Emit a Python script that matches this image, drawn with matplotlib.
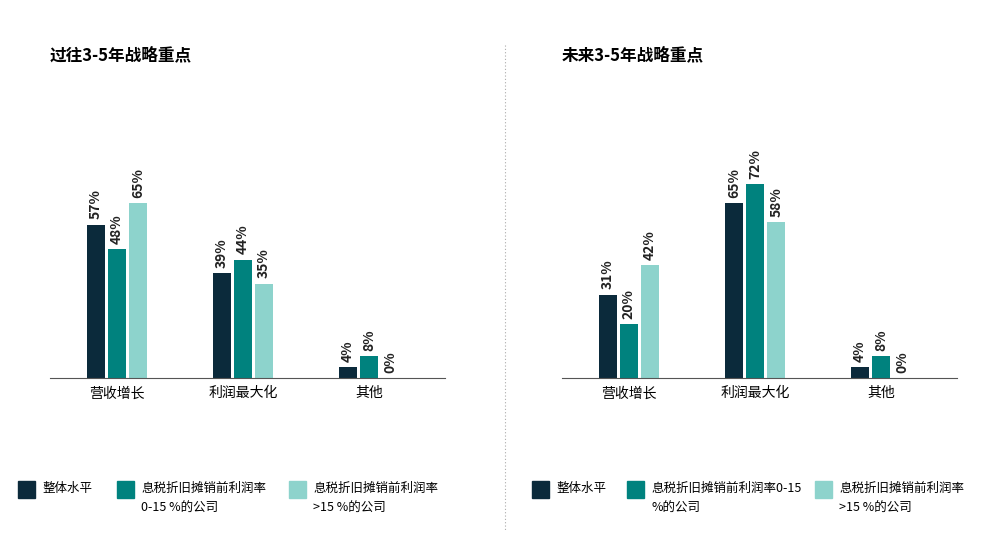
import matplotlib.pyplot as plt
from matplotlib.patches import Rectangle
from matplotlib.lines import Line2D

plt.rcParams['font.family'] = ['Noto Sans CJK SC', 'DejaVu Sans']

categories = ['营收增长', '利润最大化', '其他']
past_overall = [57, 39, 4]
past_mid = [48, 44, 8]
past_high = [65, 35, 0]
future_overall = [31, 65, 4]
future_mid = [20, 72, 8]
future_high = [42, 58, 0]
titles = ['过往3-5年战略重点', '未来3-5年战略重点']
colors = ['#0b2a3b', '#00827e', '#8dd3cc']
legend_left = ['整体水平', '息税折旧摊销前利润率\n0-15 %的公司', '息税折旧摊销前利润率\n>15 %的公司']
legend_right = ['整体水平', '息税折旧摊销前利润率0-15\n%的公司', '息税折旧摊销前利润率\n>15 %的公司']

W, H = 998, 549
fig = plt.figure(figsize=(W / 100, H / 100), dpi=100)

panels = [
    (50, [past_overall, past_mid, past_high], titles[0], legend_left, [18, 117, 289]),
    (562, [future_overall, future_mid, future_high], titles[1], legend_right, [532, 627, 815]),
]
for left, series, title, leg, legx in panels:
    ax = fig.add_axes([left / W, 1 - 378 / H, 395 / W, 269 / H])
    ax.set_xlim(-0.53, 2.6)
    ax.set_ylim(0, 100)
    offs = [-0.167, 0, 0.167]
    for vals, c, o in zip(series, colors, offs):
        xs = [i + o for i in range(len(categories))]
        ax.bar(xs, vals, width=0.145, color=c)
        for x, v in zip(xs, vals):
            ax.text(x, v + 2, f'{v}%', rotation=90, ha='center', va='bottom',
                    fontsize=10, fontweight='bold', color='#222222')
    for s in ['top', 'right', 'left']:
        ax.spines[s].set_visible(False)
    ax.spines['bottom'].set_color('#555555')
    ax.set_yticks([])
    ax.set_xticks(range(len(categories)))
    ax.set_xticklabels(categories, fontsize=10)
    ax.tick_params(axis='x', length=0, pad=6)
    fig.text(left / W, 1 - 55 / H, title, fontsize=12, fontweight='bold', va='center')
    for x, lab, c in zip(legx, leg, colors):
        fig.patches.append(Rectangle((x / W, 1 - 498 / H), 17 / W, 17 / H,
                                     transform=fig.transFigure, color=c))
        fig.text((x + 24) / W, 1 - 482 / H, lab, fontsize=9, va='top', linespacing=1.7)

fig.add_artist(Line2D([505 / W, 505 / W], [1 - 45 / H, 1 - 530 / H],
                      transform=fig.transFigure, color='#aaaaaa', lw=0.8, ls=(0, (1, 2))))

fig.savefig('out.png', dpi=100)
